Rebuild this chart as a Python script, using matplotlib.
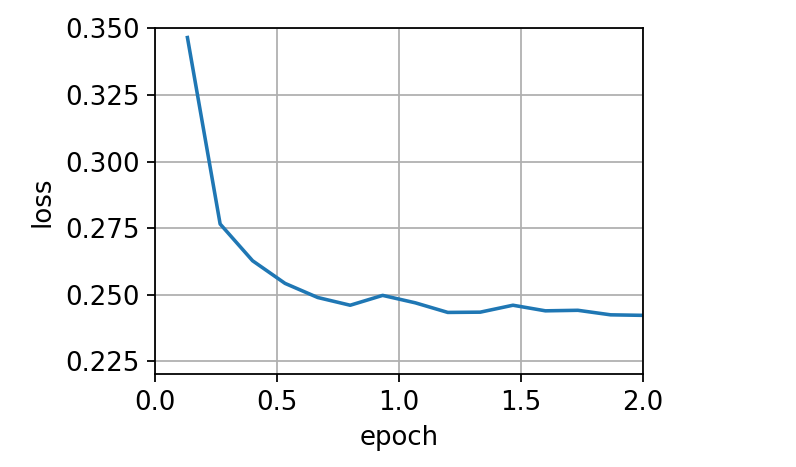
import numpy as np
import matplotlib
matplotlib.use("Agg")
import matplotlib.pyplot as plt

# loss per logged step (7.5 logs per epoch)
epochs = [0.133, 0.267, 0.400, 0.533, 0.667, 0.800, 0.933, 1.067,
          1.200, 1.333, 1.467, 1.600, 1.733, 1.867, 2.000]
loss = [0.3466, 0.2766, 0.2628, 0.2543, 0.2490, 0.2461, 0.2498, 0.2470,
        0.2434, 0.2435, 0.2461, 0.2440, 0.2442, 0.2425, 0.2423]

plt.rcParams["font.size"] = 11.7

fig = plt.figure(figsize=(796 / 160, 467 / 160), dpi=160)
ax = fig.add_axes([0.1947, 0.1981, 0.6131, 0.7409])
ax.plot(epochs, loss, color="#1f77b4", lw=1.6)
ax.set_xlim(0, 2)
ax.set_ylim(0.2201, 0.350)
ax.set_xticks([0.0, 0.5, 1.0, 1.5, 2.0])
ax.set_yticks([0.225, 0.250, 0.275, 0.300, 0.325, 0.350])
ax.set_xlabel("epoch")
ax.set_ylabel("loss")
ax.grid(True)
fig.savefig("out.png", dpi=160)
